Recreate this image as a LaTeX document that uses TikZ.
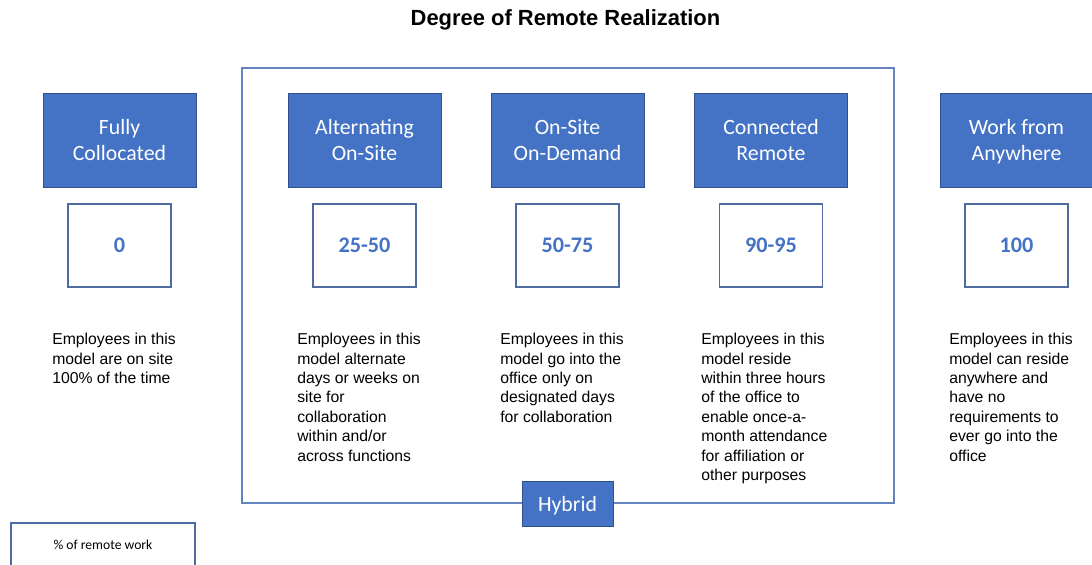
\documentclass[tikz,border=0pt]{standalone}
\usepackage{fontspec}
\setmainfont{Liberation Sans}
\newfontfamily\calibri{Carlito}
\usetikzlibrary{positioning}

\definecolor{modelblue}{HTML}{4472C4}
\definecolor{modeledge}{HTML}{2F528F}
\definecolor{frameblue}{HTML}{6384BE}

\begin{document}
\begin{tikzpicture}[x=0.025cm, y=-0.025cm, node distance=0.4cm,
	model/.style={rectangle, draw=modeledge, line width=0.6pt, fill=modelblue, text=white,
		minimum width=3.825cm, minimum height=2.35cm, align=center, text depth=0pt,
		font=\calibri\fontsize{15.5}{18.9}\selectfont},
	share/.style={rectangle, draw=modeledge!85, line width=0.8pt, fill=white, text=modelblue,
		minimum width=2.575cm, minimum height=2.075cm,
		font=\calibri\bfseries\fontsize{15.8}{18}\selectfont},
	desc/.style={anchor=north west, inner sep=0pt, align=left,
		font=\fontsize{11.2}{13.8}\selectfont}]
	\clip (0,0) rectangle (1092,565);

	% Title
	\node [font=\bfseries\fontsize{15.6}{18}\selectfont]	(title)	at (565.5,20)	{Degree of Remote Realization};

	% Hybrid frame
	\draw [frameblue, line width=0.9pt] (242,68) rectangle (894,503);

	% Models {fully, alternating, ondemand, connected, anywhere}
	\node [model]	(fully)			at (119.5,140)	{Fully\\Collocated};
	\node [model]	(alternating)	at (364.5,140)	{Alternating\\On-Site};
	\node [model]	(ondemand)		at (567.5,140)	{On-Site\\On-Demand};
	\node [model]	(connected)		at (771,140)	{Connected\\Remote};
	\node [model]	(anywhere)		at (1016.5,140)	{Work from\\Anywhere};

	% Share of remote work
	\node [share]	(s0)	[below=of fully]		{0};
	\node [share]	(s25)	[below=of alternating]	{25-50};
	\node [share]	(s50)	[below=of ondemand]		{50-75};
	\node [share]	(s90)	[below=of connected]	{90-95};
	\node [share]	(s100)	[below=of anywhere]		{100};

	% Descriptions
	\node [desc]	(d0)	at (52,333)		{Employees in this\\model are on site\\100\% of the time};
	\node [desc]	(d25)	at (297,333)	{Employees in this\\model alternate\\days or weeks on\\site for\\collaboration\\within and/or\\across functions};
	\node [desc]	(d50)	at (500,333)	{Employees in this\\model go into the\\office only on\\designated days\\for collaboration};
	\node [desc]	(d90)	at (701,333)	{Employees in this\\model reside\\within three hours\\of the office to\\enable once-a-\\month attendance\\for affiliation or\\other purposes};
	\node [desc]	(d100)	at (949,333)	{Employees in this\\model can reside\\anywhere and\\have no\\requirements to\\ever go into the\\office};

	% Labels at the bottom
	\node [model, minimum width=2.275cm, minimum height=1.125cm]	(hybrid)	at (567.5,503.5)	{Hybrid};
	\node [rectangle, draw=modeledge!85, line width=0.8pt, minimum width=4.6cm, minimum height=1.1cm,
		font=\calibri\fontsize{9.7}{11}\selectfont]	(legend)	at (103,545)	{\% of remote work};
\end{tikzpicture}
\end{document}
